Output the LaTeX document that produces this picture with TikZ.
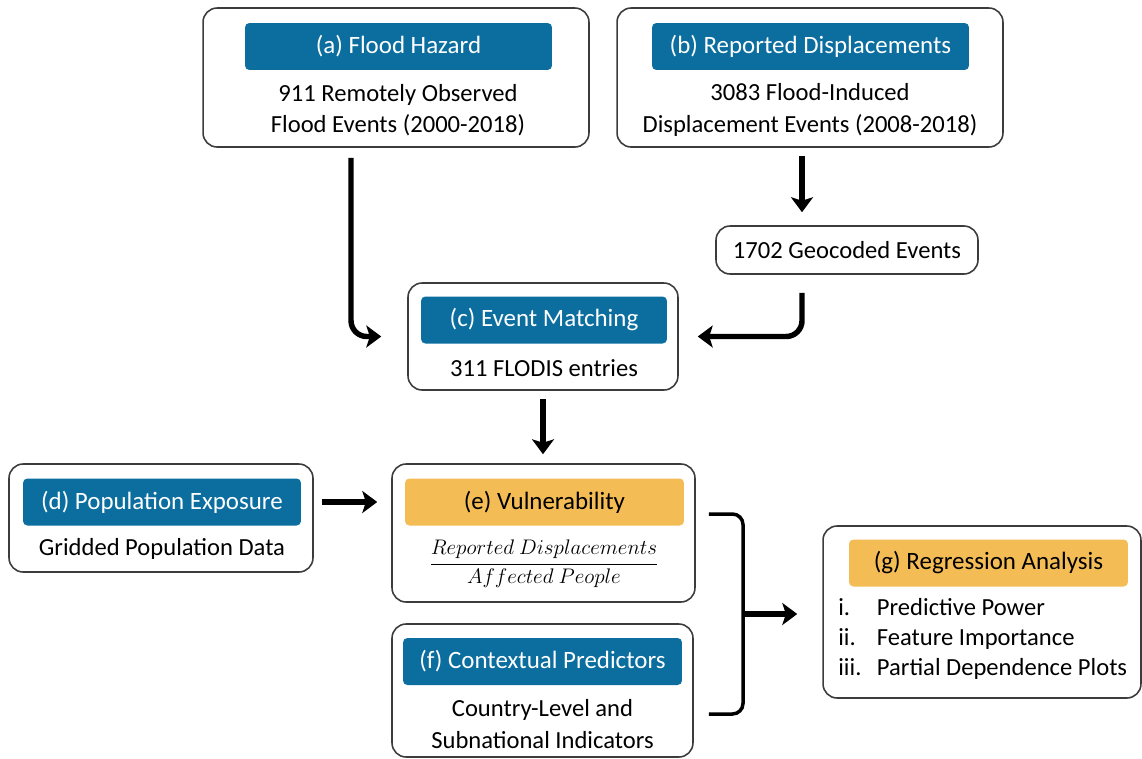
\documentclass[tikz,border=0pt]{standalone}
\usepackage{fontspec}
\setmainfont{Carlito}
\usetikzlibrary{arrows.meta}
\definecolor{headblue}{RGB}{11,110,159}
\definecolor{headgold}{RGB}{244,188,85}
\definecolor{frame}{RGB}{60,60,60}
\newcommand{\itemlab}[1]{\makebox[22pt][l]{#1}}
\begin{document}
\begin{tikzpicture}[x=0.02cm,y=-0.02cm,
  outer/.style={draw=frame,line width=0.9pt,rounded corners=8pt,fill=white,inner sep=0pt},
  head/.style={fill=headblue,rounded corners=2.5pt,text=white,minimum height=0.94cm,inner sep=0pt,font=\fontsize{14.2}{16}\selectfont},
  headg/.style={head,fill=headgold,text=black},
  body/.style={align=center,inner sep=0pt,font=\fontsize{14}{18}\selectfont},
  flow/.style={line width=3.1pt,-{Stealth[length=8.5pt,width=12.5pt,inset=2pt]},rounded corners=9pt},
  brace/.style={line width=2pt,rounded corners=6pt}]
  \useasboundingbox (0,0) rectangle (1142,758);
  % boxes
  \node[outer,minimum width=7.72cm,minimum height=2.78cm] (a) at (396,77.5) {};
  \node[outer,minimum width=7.72cm,minimum height=2.78cm] (b) at (810,77.5) {};
  \node[outer,minimum width=5.24cm,minimum height=0.96cm] (geo) at (847,250) {};
  \node[outer,minimum width=5.4cm,minimum height=2.14cm] (c) at (543,336.5) {};
  \node[outer,minimum width=6.08cm,minimum height=2.16cm] (d) at (161,518) {};
  \node[outer,minimum width=6.06cm,minimum height=2.76cm] (e) at (543.5,533) {};
  \node[outer,minimum width=6.02cm,minimum height=2.66cm] (f) at (542.5,690.5) {};
  \node[outer,minimum width=6.36cm,minimum height=3.44cm] (g) at (982,612) {};
  % headers
  \node[head,minimum width=6.14cm] (ah) at (398.5,46.5) {(a) Flood Hazard};
  \node[head,minimum width=6.34cm] (bh) at (810.5,46.5) {(b) Reported Displacements};
  \node[head,minimum width=4.92cm] (ch) at (544,320) {(c) Event Matching};
  \node[head,minimum width=5.56cm] (dh) at (162,502) {(d) Population Exposure};
  \node[headg,minimum width=5.58cm] (eh) at (544.5,502) {(e) Vulnerability};
  \node[head,minimum width=5.58cm] (fh) at (542.5,661.5) {(f) Contextual Predictors};
  \node[headg,minimum width=5.58cm] (gh) at (988.5,563) {(g) Regression Analysis};
  % texts
  \node[body] (at) at (398,110) {911 Remotely Observed\\Flood Events (2000-2018)};
  \node[body] (bt) at (810,110) {3083 Flood-Induced\\Displacement Events (2008-2018)};
  \node[body] (geot) at (847,250) {1702 Geocoded Events};
  \node[body] (ct) at (544,368) {311 FLODIS entries};
  \node[body] (dt) at (162,549) {Gridded Population Data};
  \node[body] (et) at (544,564) {\fontsize{13}{15}\selectfont$\displaystyle\frac{Reported\ Displacements}{Affected\ People}$};
  \node[body] (ft) at (542.5,724) {Country-Level and\\Subnational Indicators};
  \node[body,align=left,anchor=west,font=\fontsize{14}{17}\selectfont] (gt) at (838,639)
    {\itemlab{i.}Predictive Power\\\itemlab{ii.}Feature Importance\\\itemlab{iii.}Partial Dependence Plots};
  % arrows
  \draw[flow,shorten <=5.7pt,shorten >=0.52cm] ([xshift=-0.9cm]a.south) |- (c.west);
  \draw[flow,shorten <=4.5pt,shorten >=0.26cm] ([xshift=-0.16cm]b.south) -- ([xshift=-0.16cm]b.south |- geo.north);
  \draw[flow,shorten <=0.36cm,shorten >=0.38cm] ([xshift=-0.9cm]geo.south) |- (c.east);
  \draw[flow,shorten <=0.16cm,shorten >=0.18cm] (c.south) -- (c.south |- e.north);
  \draw[flow,shorten <=0.16cm,shorten >=0.28cm] (dh.east -| d.east) -- (dh.east -| e.west);
  \coordinate (join) at (743,614);
  \draw[brace] ([shift={(0.26cm,0.38cm)}]e.east) -| (join) |- ([shift={(0.3cm,-0.47cm)}]f.east);
  \draw[flow,shorten >=0.5cm] (join) -- (join -| g.west);
\end{tikzpicture}
\end{document}
